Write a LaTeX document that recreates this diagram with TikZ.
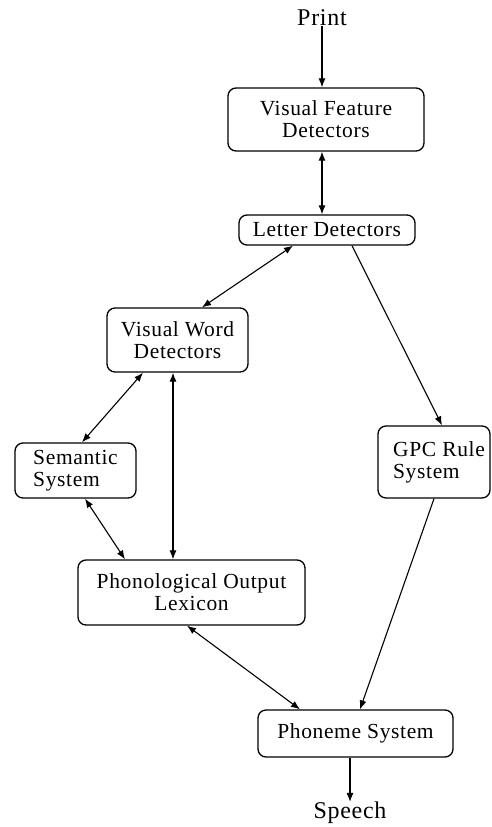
\documentclass[tikz,border=0pt]{standalone}
\usepackage{fontspec}
\setmainfont{Liberation Serif}[LetterSpace=3]
\usetikzlibrary{arrows.meta}
\begin{document}
\begin{tikzpicture}[x=1pt,y=-1pt,
  boxnode/.style={draw, line width=1.3pt, rounded corners=8pt, inner sep=0pt,
    align=center, font=\fontsize{21.5}{22}\selectfont},
  plain/.style={inner sep=0pt, font=\fontsize{24}{26}\selectfont},
  conn/.style={line width=1.1pt, -{Latex[length=9pt,width=7pt]}},
  biconn/.style={line width=1.1pt, {Latex[length=9pt,width=7pt]}-{Latex[length=9pt,width=7pt]}}
]
\useasboundingbox (0,0) rectangle (492,827);
\node[plain] (print) at (322,18) {Print};
\node[plain] (speech) at (350,813) {Speech};
\node[boxnode, minimum width=196pt, minimum height=63pt] (vfd) at (326,119.5) {Visual Feature\\Detectors};
\node[boxnode, minimum width=176pt, minimum height=30pt] (let) at (327,230) {Letter Detectors};
\node[boxnode, minimum width=141pt, minimum height=64pt] (vwd) at (177.5,340) {Visual Word\\Detectors};
\node[boxnode, align=left, minimum width=121pt, minimum height=55pt] (sem) at (75.5,470.5) {Semantic\\System};
\node[boxnode, align=left, minimum width=112pt, minimum height=72pt] (gpc) at (434,462) {\hspace*{10pt}GPC Rule\\\hspace*{10pt}System};
\node[boxnode, minimum width=227pt, minimum height=65pt] (pol) at (191.5,592.5) {Phonological Output\\Lexicon};
\node[boxnode, minimum width=195pt, minimum height=47pt] (pho) at (355.5,733.5) {Phoneme System};

\draw[conn] (print.south) -- ([xshift=-4pt]vfd.north);
\draw[biconn] ([xshift=-4pt]vfd.south) -- ([xshift=-5pt]let.north);
\draw[biconn] ([xshift=-34pt]let.south) -- ([xshift=24.5pt]vwd.north);
\draw[conn] ([xshift=25pt]let.south) -- ([xshift=8pt]gpc.north);
\draw[biconn] ([xshift=-34.5pt]vwd.south) -- ([xshift=6.5pt]sem.north);
\draw[biconn] ([xshift=-4.5pt]vwd.south) -- ([xshift=-18.5pt]pol.north);
\draw[biconn] ([xshift=9.5pt]sem.south) -- ([xshift=-66.5pt]pol.north);
\draw[biconn] ([xshift=-4.5pt]pol.south) -- ([xshift=-55.5pt]pho.north);
\draw[conn] (gpc.south) -- ([xshift=4.5pt]pho.north);
\draw[conn] ([xshift=-5.5pt]pho.south) -- (speech.north);
\end{tikzpicture}
\end{document}
